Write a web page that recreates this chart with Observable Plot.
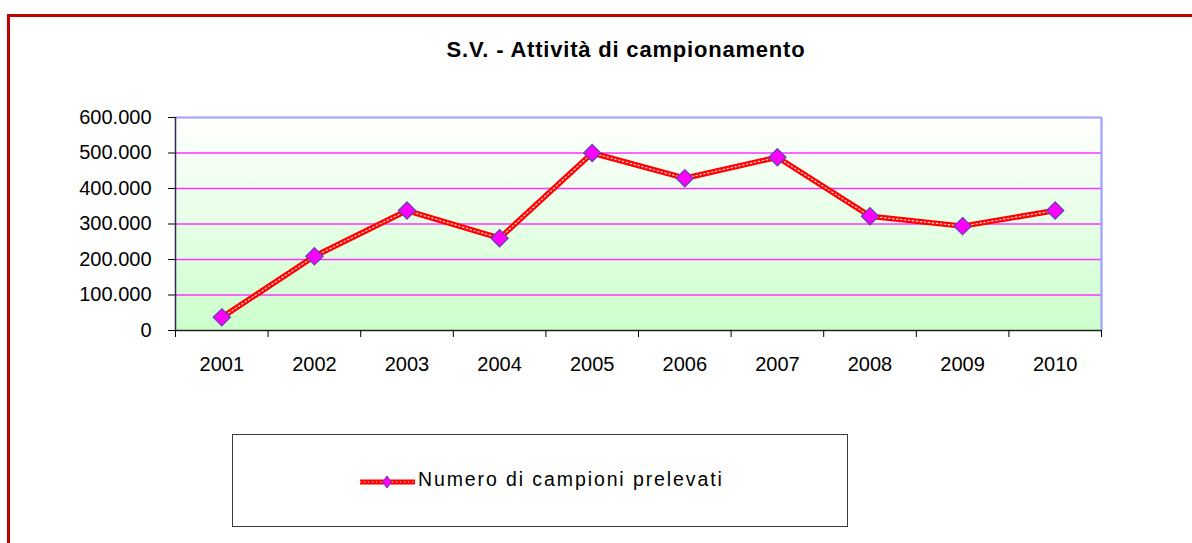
<!DOCTYPE html>
<html>
<head>
<meta charset="utf-8">
<script src="https://cdn.jsdelivr.net/npm/d3@7"></script>
<script src="https://cdn.jsdelivr.net/npm/@observablehq/plot@0.6"></script>
<style>
  html, body { margin: 0; padding: 0; background: #fff; }
  #wrap { position: relative; width: 1192px; height: 543px; overflow: hidden; font-family: "Liberation Sans", Arial, sans-serif; }
  #frameBorder { position: absolute; left: 7px; top: 14px; width: 1260px; height: 620px; border: 3px solid #c00000; box-sizing: border-box; }
  #title { position: absolute; left: 0; top: 37px; width: 1252px; text-align: center; font-weight: bold; font-size: 22px; letter-spacing: 0.8px; color: #000; white-space: nowrap; }
  #chart { position: absolute; left: 0; top: 0; }
  #legend { position: absolute; left: 232px; top: 434px; width: 616px; height: 93px; border: 1.5px solid #3a3a3a; box-sizing: border-box; background: #fff; }
  #legendText { position: absolute; left: 418px; top: 468px; font-size: 19.5px; letter-spacing: 1.9px; color: #000; white-space: nowrap; }
  #legendSwatch { position: absolute; left: 355px; top: 470px; }
</style>
</head>
<body>
<div id="wrap">
  <div id="frameBorder"></div>
  <div id="chart"></div>
  <div id="title">S.V. - Attività di campionamento</div>
  <div id="legend"></div>
  <div id="legendSwatch"></div>
  <div id="legendText"></div>
</div>
<script>
// ---- data ----
const years = [2001, 2002, 2003, 2004, 2005, 2006, 2007, 2008, 2009, 2010];
const campioni = [37000, 209000, 338000, 260000, 500000, 429000, 488000, 322000, 294000, 338000];
const yTicks = [0, 100000, 200000, 300000, 400000, 500000, 600000];
const seriesName = "Numero di campioni prelevati";
const titleText = "S.V. - Attività di campionamento";

const data = years.map((y, i) => ({year: y, value: campioni[i]}));
const boundaries = [years[0] - 0.5, ...years.map(y => y + 0.5)];
const fmt = d => d3.format(",")(d).replace(/,/g, ".");

document.getElementById("title").textContent = titleText;
document.getElementById("legendText").textContent = seriesName;

const chart = Plot.plot({
  width: 1192,
  height: 400,
  marginLeft: 175,
  marginRight: 91,
  marginTop: 117,
  marginBottom: 70,
  x: {type: "linear", domain: [years[0] - 0.5, years[years.length - 1] + 0.5]},
  y: {domain: [0, 600000]},
  style: {fontFamily: "'Liberation Sans', Arial, sans-serif", fontSize: "20px", background: "transparent", color: "#000", overflow: "visible"},
  marks: [
    Plot.frame({fill: "url(#bgGrad)", stroke: "none"}),
    Plot.ruleY(yTicks.filter(d => d > 0 && d < 600000), {stroke: "#ff33ff", strokeWidth: 1.4}),
    Plot.ruleY([600000], {stroke: "#9f9fff", strokeWidth: 2.2}),
    Plot.ruleX([years[years.length - 1] + 0.5], {stroke: "#9f9fff", strokeWidth: 2.2}),
    Plot.ruleX([years[0] - 0.5], {stroke: "#2a2a55", strokeWidth: 1.5}),
    Plot.ruleY([0], {stroke: "#222", strokeWidth: 1.5}),
    Plot.axisY({ticks: yTicks, tickFormat: fmt, tickSize: 7, tickPadding: 17, stroke: "#000", fill: "#000", fontSize: 20, label: null}),
    Plot.axisX({ticks: boundaries, tickFormat: () => "", tickSize: 7, stroke: "#000", label: null}),
    Plot.axisX({ticks: years, tickFormat: d => String(d), tickSize: 0, tickPadding: 26, fill: "#000", fontSize: 20, label: null}),
    Plot.line(data, {x: "year", y: "value", stroke: "#ff0000", strokeWidth: 5.5}),
    Plot.line(data, {x: "year", y: "value", stroke: "#ffc8c8", strokeWidth: 1.3, strokeDasharray: "1.5,2.5"}),
    Plot.dot(data, {x: "year", y: "value", symbol: "diamond2", r: 7.7, fill: "#ff00ff", stroke: "#6a3fb0", strokeWidth: 1.3})
  ]
});

// vertical gradient for the plot background
const svg = d3.select(chart);
const defs = svg.insert("defs", ":first-child");
const grad = defs.append("linearGradient").attr("id", "bgGrad").attr("x1", 0).attr("y1", 0).attr("x2", 0).attr("y2", 1);
grad.append("stop").attr("offset", "0%").attr("stop-color", "#ffffff");
grad.append("stop").attr("offset", "100%").attr("stop-color", "#ccffcc");

document.getElementById("chart").appendChild(chart);

// legend swatch
const sw = d3.select("#legendSwatch").append("svg").attr("width", 64).attr("height", 24);
sw.append("line").attr("x1", 5).attr("x2", 60).attr("y1", 12).attr("y2", 12).attr("stroke", "#ff0000").attr("stroke-width", 5);
sw.append("line").attr("x1", 5).attr("x2", 60).attr("y1", 12).attr("y2", 12).attr("stroke", "#ffc8c8").attr("stroke-width", 1.2).attr("stroke-dasharray", "1.5,2.5");
sw.append("path").attr("d", "M32,6 L36.5,12 L32,18 L27.5,12 Z").attr("fill", "#ff00ff").attr("stroke", "#6a3fb0").attr("stroke-width", 1);
</script>
</body>
</html>
